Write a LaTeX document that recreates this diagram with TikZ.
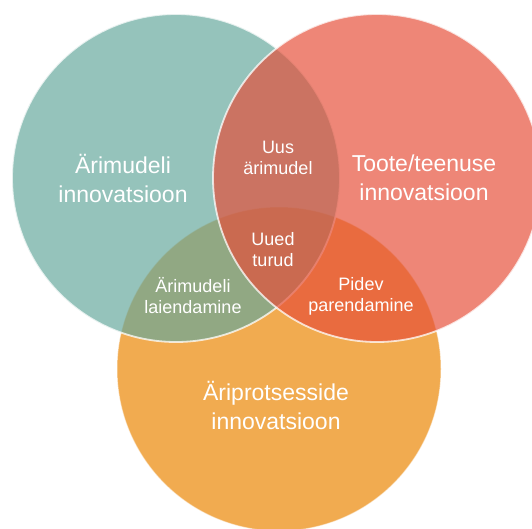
\documentclass[tikz,border=0pt]{standalone}
\usepackage{fontspec}
\setmainfont{Liberation Sans}
\definecolor{cteal}{RGB}{100,167,156}
\definecolor{cred}{RGB}{230,78,56}
\definecolor{corange}{RGB}{241,171,80}
\tikzset{
  ring/.style={draw=white, draw opacity=0.75, line width=1.8pt},
  bigtxt/.style={text=white, align=center, inner sep=0pt, font=\fontsize{23}{29}\selectfont},
  smalltxt/.style={text=white, align=center, inner sep=0pt, font=\fontsize{18}{21}\selectfont},
}
\begin{document}
\begin{tikzpicture}[x=1pt,y=-1pt]
\useasboundingbox (0,0) rectangle (532,528);
\fill[white] (0,0) rectangle (532,528);
\begin{scope}
\clip (0,0) rectangle (532,528);
\coordinate (cO) at (279,369);
\coordinate (cT) at (176,178);
\coordinate (cR) at (377,178);
\fill[corange] (cO) circle[radius=162pt];
\draw[draw=white, draw opacity=0.5, line width=1pt] (cO) circle[radius=162pt];
\fill[cteal, fill opacity=0.68] (cT) circle[radius=164pt];
\draw[ring] (cT) circle[radius=164pt];
\fill[cred, fill opacity=0.68] (cR) circle[radius=164pt];
\draw[ring] (cR) circle[radius=164pt];
\end{scope}
\node[bigtxt] (t1) at (123,178) {Ärimudeli\\innovatsioon};
\node[bigtxt] (t2) at (424,178) {Toote/teenuse\\innovatsioon};
\node[bigtxt] (t3) at (276,405) {Äriprotsesside\\ innovatsioon};
\node[smalltxt] (t4) at (278,158) {Uus\\ärimudel};
\node[smalltxt] (t5) at (273,250) {Uued\\turud};
\node[smalltxt] (t6) at (193,296) {Ärimudeli\\laiendamine};
\node[smalltxt] (t7) at (361,296) {Pidev\\parendamine};
\end{tikzpicture}
\end{document}
